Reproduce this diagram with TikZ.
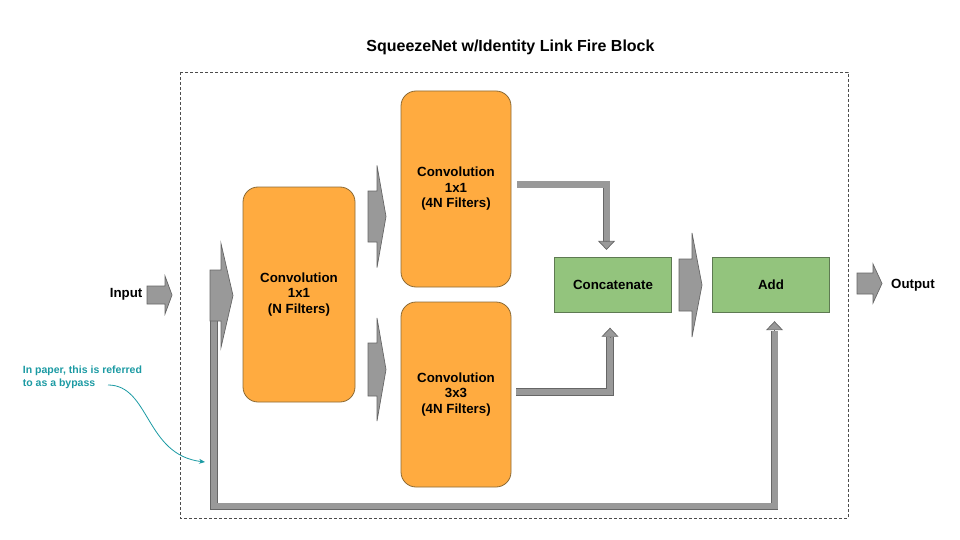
\documentclass[tikz,border=0pt]{standalone}
\usepackage{fontspec}
\setmainfont{Liberation Sans}
\usetikzlibrary{arrows.meta,positioning,calc}
\definecolor{boxorange}{HTML}{FFAB40}
\definecolor{orangeedge}{HTML}{8B6A35}
\definecolor{boxgreen}{HTML}{93C47D}
\definecolor{greenedge}{HTML}{5E7A52}
\definecolor{fatfill}{HTML}{999999}
\definecolor{fatedge}{HTML}{666666}
\definecolor{noteteal}{HTML}{1B9AA3}
\newcommand{\boxfont}{\bfseries\fontsize{13.3}{15.5}\selectfont}
\tikzset{
  conv/.style  ={rectangle,draw=orangeedge,fill=boxorange,rounded corners=15pt,line width=0.8pt,align=center,font=\boxfont},
  merge/.style ={rectangle,draw=greenedge,fill=boxgreen,line width=0.8pt,font=\boxfont,minimum width=117.5pt,minimum height=55pt},
  fat/.style   ={draw=fatedge,fill=fatfill,line width=0.7pt},
  bar/.style   ={draw=fatedge,double=fatfill,double distance=6pt,line width=0.7pt},
  bartip/.style={draw=fatedge,line width=0.7pt,-{Triangle[width=17pt,length=9pt,fill=fatfill]}},
  lbl/.style   ={inner sep=0pt,font=\boxfont},
  frame/.style ={draw=black!70,line width=0.7pt,dash pattern=on 3pt off 2pt}
}
% block arrow: tail, tip, head length, body half width, head half width
\newcommand{\fatarrow}[5]{%
  \filldraw[fat] ($(#1)+(0,-#4)$) -- ($(#2)+(-#3,-#4)$) -- ($(#2)+(-#3,-#5)$) -- (#2)
    -- ($(#2)+(-#3,#5)$) -- ($(#2)+(-#3,#4)$) -- ($(#1)+(0,#4)$) -- cycle;}

\begin{document}
\begin{tikzpicture}[x=1pt,y=-1pt]
\useasboundingbox (0,0) rectangle (960,540);

% -------- title and block frame --------
\node[font=\bfseries\fontsize{16}{19}\selectfont, anchor=base] (title) at (510.5,51.7) {SqueezeNet w/Identity Link Fire Block};
\draw[frame] (180,72) rectangle (848,518);

% -------- layers --------
\node[conv, minimum width=112pt, minimum height=215pt] (convN) at (299,294.5) {Convolution\\1x1\\(N Filters)};
\node[conv, minimum width=110pt, minimum height=196pt] (convA) at (456,189) {Convolution\\1x1\\(4N Filters)};
\node[conv, minimum width=110pt, minimum height=185pt] (convB) at (456,394.5) {Convolution\\3x3\\(4N Filters)};
\node[merge] (concat) at (613,284.8) {Concatenate};
\node[merge] (add) at (771,284.8) {Add};

% -------- input / output --------
\node[lbl, anchor=base east] (input) at (142.5,297.5) {Input};
\node[lbl, anchor=base west] (output) at (891,288.5) {Output};

% -------- bypass (identity link) --------
\draw[bar] (214,321) |- ($(add.south)+(3.5,193.7)$) -- ($(add.south)+(3.5,18)$);
\draw[bartip] ($(add.south)+(3.5,18)$) -- ($(add.south)+(3.5,8.5)$);

% -------- block arrows --------
\coordinate (inTail) at (147,295);   \coordinate (inTip) at (172,295);
\coordinate (nTail) at (210,295.5);  \coordinate (nTip) at (233,295.5);
\coordinate (aTail) at (368,216.5);  \coordinate (aTip) at (386,216.5);
\coordinate (bTail) at (368,369.5);  \coordinate (bTip) at (386,369.5);
\coordinate (cTail) at (679,285);    \coordinate (cTip) at (702,285);
\coordinate (oTail) at (857,283.5);  \coordinate (oTip) at (882,283.5);
\fatarrow{inTail}{inTip}{7}{9}{19}
\fatarrow{nTail}{nTip}{12}{25.5}{52}
\fatarrow{aTail}{aTip}{9}{25.5}{51}
\fatarrow{bTail}{bTip}{9}{26.5}{51.5}
\fatarrow{cTail}{cTip}{10}{26}{52}
\fatarrow{oTail}{oTip}{9}{10.5}{19.5}

% -------- expand outputs -> concatenate --------
\draw[bar] ($(convA.east)+(6,-4.5)$) -| ($(concat.north)+(-6.5,-15)$);
\draw[bartip] ($(concat.north)+(-6.5,-15.5)$) -- ($(concat.north)+(-6.5,-7)$);
\draw[bar] ($(convB.east)+(5,-2.5)$) -| ($(concat.south)+(-3,51)$) -- ($(concat.south)+(-3,24)$);
\draw[bartip] ($(concat.south)+(-3,24.5)$) -- ($(concat.south)+(-3,15)$);

% -------- note --------
\node[lbl, font=\bfseries\fontsize{10.5}{12.6}\selectfont, text=noteteal, align=left, anchor=north west] (note) at (22.7,366) {In paper, this is referred\\to as a bypass};
\coordinate (noteStart) at (108,385);
\coordinate (bypassHint) at (205,462);
\draw[noteteal, line width=0.8pt, -{Stealth[length=6pt,width=5pt]}] (noteStart) .. controls (150,385) and (145,455) .. (bypassHint);

\end{tikzpicture}
\end{document}
